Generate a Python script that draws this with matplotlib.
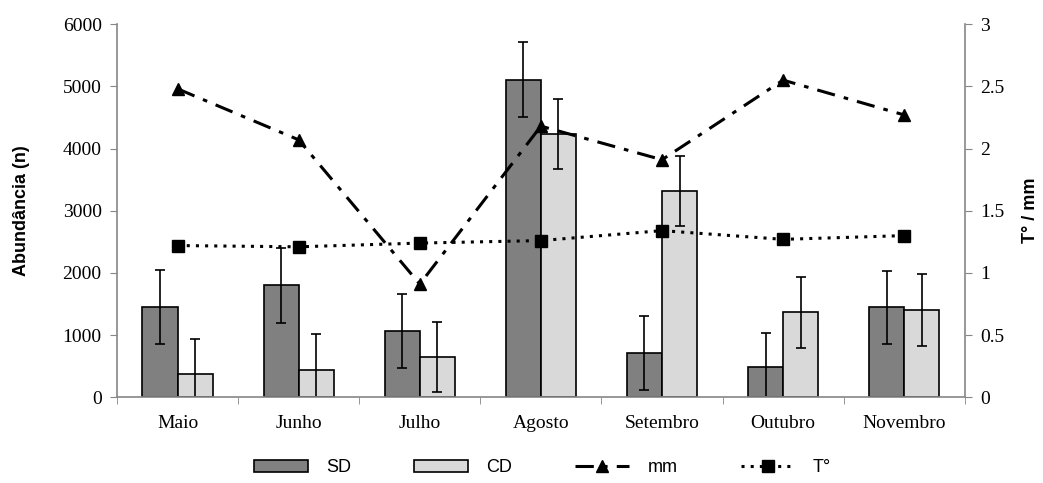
import numpy as np
import matplotlib.pyplot as plt

# dados
meses = ['Maio', 'Junho', 'Julho', 'Agosto', 'Setembro', 'Outubro', 'Novembro']
sd = [1450, 1800, 1060, 5110, 710, 490, 1445]
sd_err = [590, 600, 595, 595, 595, 550, 590]
cd = [380, 440, 650, 4230, 3320, 1365, 1410]
cd_err = [550, 580, 560, 560, 565, 570, 580]
mm = [2.48, 2.07, 0.91, 2.18, 1.91, 2.55, 2.27]
temp = [1.22, 1.21, 1.24, 1.26, 1.34, 1.27, 1.30]

x = np.arange(len(meses))
w = 0.29
serif = 'Liberation Serif'
sans = 'Liberation Sans'

fig = plt.figure(figsize=(10.43, 4.83), dpi=100)
ax = fig.add_axes([0.1122, 0.1774, 0.8128, 0.7726])

ekw = dict(ecolor='black', elinewidth=1.2, capsize=3.6, capthick=1.2)
b1 = ax.bar(x - w/2, sd, w, color='#808080', edgecolor='black', linewidth=1.2,
            yerr=sd_err, error_kw=ekw, label='SD')
b2 = ax.bar(x + w/2, cd, w, color='#d9d9d9', edgecolor='black', linewidth=1.2,
            yerr=cd_err, error_kw=ekw, label='CD')

ax.set_xlim(-0.5, len(meses) - 0.5)
ax.set_ylim(0, 6000)
ax.set_yticks(np.arange(0, 6001, 1000))
ax.set_xticks(x)
ax.set_xticklabels(meses, family=serif, fontsize=14)
ax.set_xticks(np.arange(-0.5, len(meses)), minor=True)
ax.tick_params(axis='x', which='major', length=0, pad=13)
ax.tick_params(axis='x', which='minor', length=5, color='#868686')
ax.tick_params(axis='y', length=5, color='#868686', labelsize=14, pad=6)
for lab in ax.get_yticklabels():
    lab.set_family(serif)
ax.set_ylabel('Abundância (n)', family=sans, fontweight='bold', fontsize=13)
ax.yaxis.set_label_coords(-0.103, 0.5)

for s in ['top', 'right']:
    ax.spines[s].set_visible(False)
for s in ['left', 'bottom']:
    ax.spines[s].set_color('#868686')
    ax.spines[s].set_linewidth(1.2)

ax2 = ax.twinx()
l1, = ax2.plot(x, mm, color='black', linestyle=(0, (6, 3, 1.5, 3)), linewidth=2.2,
               marker='^', markersize=9, label='mm')
l2, = ax2.plot(x, temp, color='black', linestyle=(0, (1, 2)), linewidth=2.2,
               marker='s', markersize=8, label='T°')
ax2.set_ylim(0, 3)
ax2.set_yticks([0, 0.5, 1, 1.5, 2, 2.5, 3])
ax2.set_yticklabels(['0', '0.5', '1', '1.5', '2', '2.5', '3'], family=serif, fontsize=14)
ax2.tick_params(axis='y', length=5, color='#868686', pad=6)
ax2.set_ylabel('T° / mm', family=sans, fontweight='bold', fontsize=13)
ax2.yaxis.set_label_coords(1.067, 0.5)
for s in ['top', 'left', 'bottom']:
    ax2.spines[s].set_visible(False)
ax2.spines['right'].set_color('#868686')
ax2.spines['right'].set_linewidth(1.2)

fig.legend([b1, b2, l1, l2], ['SD', 'CD', 'mm', 'T°'], loc='lower center', ncol=4,
           frameon=False, bbox_to_anchor=(0.52, -0.02), prop={'family': sans, 'size': 13},
           handlelength=3, handleheight=0.6, columnspacing=3.5, handletextpad=1.0)

plt.savefig('out.png', dpi=100)
